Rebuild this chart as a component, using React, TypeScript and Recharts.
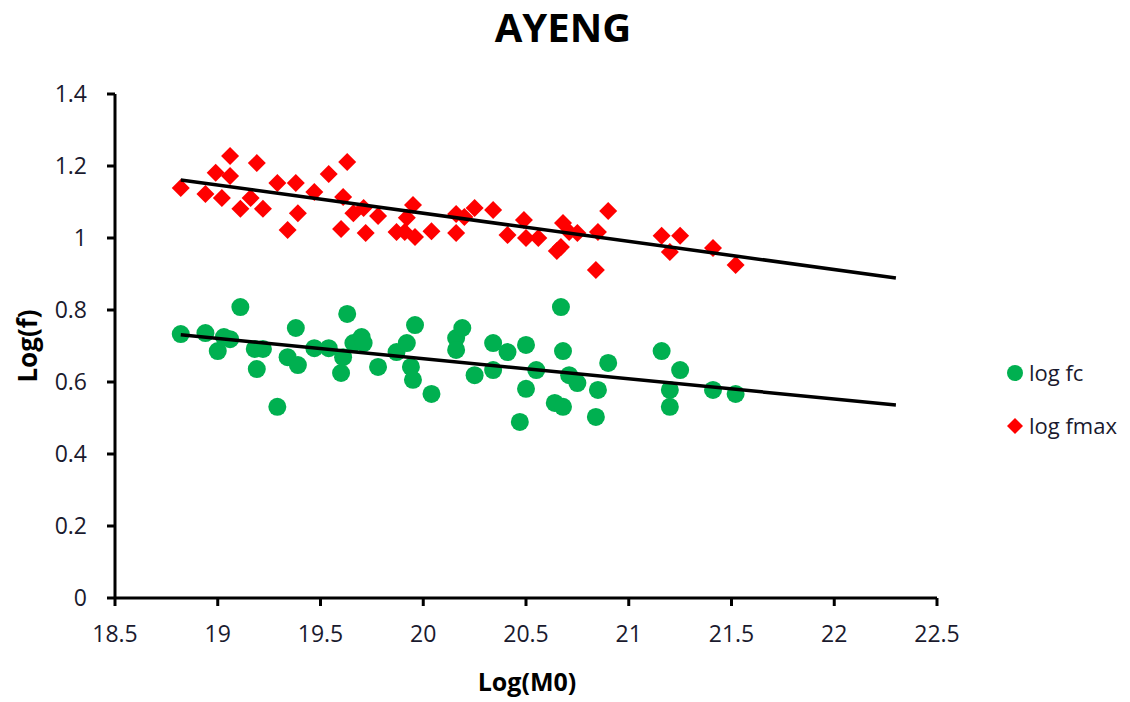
import React from 'react';
import { ScatterChart, Scatter, XAxis, YAxis } from 'recharts';

const xTicks = [18.5, 19, 19.5, 20, 20.5, 21, 21.5, 22, 22.5];
const yTicks = [0, 0.2, 0.4, 0.6, 0.8, 1, 1.2, 1.4];

// [log M0, log fc]
const logFc: [number, number][] = [
  [18.82, 0.733], [18.94, 0.736], [19.0, 0.686], [19.03, 0.725], [19.06, 0.719],
  [19.11, 0.808], [19.18, 0.692], [19.19, 0.636], [19.22, 0.692], [19.29, 0.531],
  [19.34, 0.669], [19.38, 0.75], [19.39, 0.647], [19.47, 0.694], [19.54, 0.694],
  [19.6, 0.625], [19.61, 0.669], [19.63, 0.789], [19.66, 0.708], [19.7, 0.725],
  [19.71, 0.708], [19.78, 0.642], [19.87, 0.683], [19.92, 0.708], [19.94, 0.642],
  [19.95, 0.606], [19.96, 0.758], [20.04, 0.567], [20.16, 0.722], [20.16, 0.689],
  [20.19, 0.75], [20.25, 0.619], [20.34, 0.708], [20.34, 0.633], [20.41, 0.683],
  [20.47, 0.489], [20.5, 0.581], [20.5, 0.703], [20.55, 0.633], [20.64, 0.542],
  [20.67, 0.808], [20.68, 0.531], [20.68, 0.686], [20.71, 0.619], [20.75, 0.597],
  [20.84, 0.503], [20.85, 0.578], [20.9, 0.653], [21.16, 0.686], [21.2, 0.578],
  [21.2, 0.531], [21.25, 0.633], [21.41, 0.578], [21.52, 0.567],
];

// [log M0, log fmax]
const logFmax: [number, number][] = [
  [18.82, 1.139], [18.94, 1.122], [18.99, 1.181], [19.02, 1.111], [19.06, 1.228],
  [19.06, 1.172], [19.11, 1.081], [19.16, 1.111], [19.19, 1.208], [19.22, 1.081],
  [19.29, 1.153], [19.34, 1.022], [19.38, 1.153], [19.39, 1.069], [19.47, 1.128],
  [19.54, 1.178], [19.6, 1.025], [19.61, 1.114], [19.63, 1.211], [19.66, 1.069],
  [19.71, 1.083], [19.72, 1.014], [19.78, 1.061], [19.87, 1.017], [19.91, 1.017],
  [19.92, 1.056], [19.95, 1.092], [19.96, 1.003], [20.04, 1.019], [20.16, 1.067],
  [20.16, 1.014], [20.2, 1.058], [20.25, 1.083], [20.34, 1.078], [20.41, 1.008],
  [20.49, 1.05], [20.5, 1.0], [20.56, 1.0], [20.65, 0.964], [20.67, 0.975],
  [20.68, 1.042], [20.71, 1.017], [20.75, 1.014], [20.84, 0.911], [20.85, 1.017],
  [20.9, 1.075], [21.16, 1.006], [21.2, 0.961], [21.25, 1.006], [21.41, 0.972],
  [21.52, 0.925],
];

// linear fits, drawn between the two end values of log M0
const trendM0 = [18.82, 22.3];
const fcTrend = [0.731, 0.536];
const fmaxTrend = [1.161, 0.889];

const GREEN = '#00B050';
const RED = '#FF0000';
const FONT = '"Open Sans", Calibri, sans-serif';

const legendItems = [
  { name: 'log fc', color: GREEN, marker: 'circle' },
  { name: 'log fmax', color: RED, marker: 'diamond' },
];

const toPoints = (pairs: [number, number][]) => pairs.map(([x, y]) => ({ x, y }));
const toLine = (xs: number[], ys: number[]) => xs.map((x, i) => ({ x, y: ys[i] }));

const Dot = (p: any) => <circle cx={p.cx} cy={p.cy} r={9} fill={GREEN} />;

const Diamond = (p: any) => {
  const s = 9;
  return (
    <polygon
      points={`${p.cx},${p.cy - s} ${p.cx + s},${p.cy} ${p.cx},${p.cy + s} ${p.cx - s},${p.cy}`}
      fill={RED}
    />
  );
};

const NoMark = () => <g />;

const SeriesLegend = () => (
  <g>
    {legendItems.map((item, i) => {
      const y = 373 + i * 53;
      return (
        <g key={item.name}>
          {item.marker === 'circle' ? (
            <circle cx={1015} cy={y} r={8} fill={item.color} />
          ) : (
            <polygon points={`1015,${y - 8} 1023,${y} 1015,${y + 8} 1007,${y}`} fill={item.color} />
          )}
          <text x={1029} y={y} dy="0.35em" fontSize={22} fontFamily={FONT} fill="#1a1a2e">
            {item.name}
          </text>
        </g>
      );
    })}
  </g>
);

export default function App() {
  const axisTick = { fontSize: 23, fontFamily: FONT, fill: '#1a1a2e' };
  const axisStroke = { stroke: '#000', strokeWidth: 3 };
  return (
    <div style={{ position: 'absolute', left: 0, top: 0, width: 1130, height: 702, background: '#fff' }}>
      <ScatterChart width={1130} height={702} margin={{ top: 94, right: 193, left: 55, bottom: 44 }}>
        <XAxis
          type="number"
          dataKey="x"
          domain={[18.5, 22.5]}
          ticks={xTicks}
          tick={axisTick}
          tickSize={8}
          tickMargin={20}
          height={60}
          axisLine={axisStroke}
          tickLine={axisStroke}
        />
        <YAxis
          type="number"
          dataKey="y"
          domain={[0, 1.4]}
          ticks={yTicks}
          tick={axisTick}
          tickSize={8}
          tickMargin={20}
          width={60}
          axisLine={axisStroke}
          tickLine={axisStroke}
        />
        <Scatter name="log fc" data={toPoints(logFc)} shape={Dot} fill={GREEN} isAnimationActive={false} />
        <Scatter name="log fmax" data={toPoints(logFmax)} shape={Diamond} fill={RED} isAnimationActive={false} />
        <Scatter
          data={toLine(trendM0, fcTrend)}
          fill="#000"
          line={{ stroke: '#000', strokeWidth: 3.5 }}
          shape={NoMark}
          legendType="none"
          isAnimationActive={false}
        />
        <Scatter
          data={toLine(trendM0, fmaxTrend)}
          fill="#000"
          line={{ stroke: '#000', strokeWidth: 3.5 }}
          shape={NoMark}
          legendType="none"
          isAnimationActive={false}
        />
        <text x={563} y={42} textAnchor="middle" fontSize={40} fontWeight="bold" fontFamily={FONT} fill="#000">
          AYENG
        </text>
        <text x={527} y={691} textAnchor="middle" fontSize={25} fontWeight="bold" fontFamily={FONT} fill="#000">
          Log(M0)
        </text>
        <text
          x={37}
          y={346}
          textAnchor="middle"
          transform="rotate(-90, 37, 346)"
          fontSize={26}
          fontWeight="bold"
          fontFamily={FONT}
          fill="#000"
        >
          Log(f)
        </text>
        <SeriesLegend />
      </ScatterChart>
    </div>
  );
}
